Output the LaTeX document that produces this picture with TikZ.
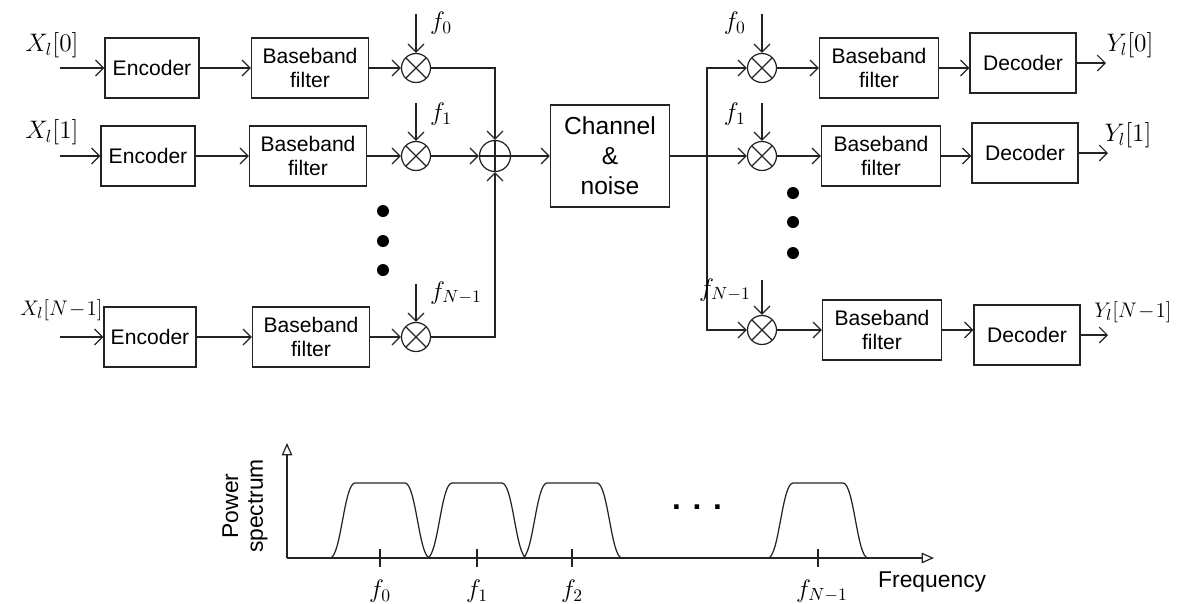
\documentclass[tikz,border=0pt]{standalone}
\usepackage{fontspec}
\setmainfont{Liberation Sans}
\usetikzlibrary{arrows.meta,calc,positioning}
\definecolor{bdline}{RGB}{35,35,35}
\tikzset{
  blk/.style={draw=bdline, line width=0.7pt, minimum height=1.2cm, inner sep=1pt, align=center, font=\fontsize{12}{14}\selectfont},
  mixer/.style={draw=bdline, circle, line width=0.7pt, minimum size=0.58cm, inner sep=0pt,
    path picture={\draw[line width=0.7pt] (path picture bounding box.north west) -- (path picture bounding box.south east)
      (path picture bounding box.north east) -- (path picture bounding box.south west);}},
  adder/.style={draw=bdline, circle, line width=0.7pt, minimum size=0.62cm, inner sep=0pt,
    path picture={\draw[line width=0.7pt] (path picture bounding box.north) -- (path picture bounding box.south)
      (path picture bounding box.east) -- (path picture bounding box.west);}},
  wire/.style={line width=0.7pt, draw=bdline},
  sig/.style={wire, -{Straight Barb[length=4.5pt,width=9pt]}},
  lbl/.style={font=\fontsize{14}{16}\selectfont},
  dotm/.style={circle, fill=black, inner sep=0pt, minimum size=0.24cm},
}
\begin{document}
\begin{tikzpicture}[x=0.02cm,y=-0.02cm]
    \useasboundingbox (0,0) rectangle (1178,603);

    \begin{scope}
        \node[blk, minimum width=1.88cm] (enc1) at (152,68) {Encoder};
        \node[blk, minimum width=1.88cm] (enc2) at (148,156) {Encoder};
        \node[blk, minimum width=1.84cm] (enc3) at (150,337) {Encoder};
        \node[blk, minimum width=2.34cm] (bbf1) at (310,68) {Baseband\\filter};
        \node[blk, minimum width=2.34cm] (bbf2) at (308,156) {Baseband\\filter};
        \node[blk, minimum width=2.34cm] (bbf3) at (311,337) {Baseband\\filter};
        \node[mixer] (mx1) at (416,68) {};
        \node[mixer] (mx2) at (416,156) {};
        \node[mixer] (mx3) at (416,337) {};
        \node[adder] (add) at (495,156) {};
        \node[blk, minimum width=2.38cm, minimum height=2.04cm, font=\fontsize{14}{17}\selectfont] (chan) at (610,156) {Channel\\\&\\noise};

        \coordinate (in1) at (60,68);
        \coordinate (in2) at (60,156);
        \coordinate (in3) at (60,337);
        \node[lbl] (xl1) at (52,45) {$X_l[0]$};
        \node[lbl] (xl2) at (52,132) {$X_l[1]$};
        \node[lbl, anchor=west, inner sep=0pt, font=\fontsize{12.5}{14}\selectfont] (xl3) at (20,310) {$X_l[N\!-\!1]$};
        \draw[sig] (in1) -- (enc1.west);
        \draw[sig] (in2) -- (enc2.west);
        \draw[sig] (in3) -- (enc3.west);
        \draw[sig] (enc1) -- (bbf1);
        \draw[sig] (enc2) -- (bbf2);
        \draw[sig] (enc3) -- (bbf3);
        \draw[sig] (bbf1) -- (mx1);
        \draw[sig] (bbf2) -- (mx2);
        \draw[sig] (bbf3) -- (mx3);

        \coordinate (lo1) at (416,14);
        \coordinate (lo2) at (416,103);
        \coordinate (lo3) at (416,284);
        \node[lbl, anchor=west] (fl1) at (424,23) {$f_0$};
        \node[lbl, anchor=west] (fl2) at (424,114) {$f_1$};
        \node[lbl, anchor=west] (fl3) at (424,293) {$f_{N-1}$};
        \draw[sig] (lo1) -- (mx1.north);
        \draw[sig] (lo2) -- (mx2.north);
        \draw[sig] (lo3) -- (mx3.north);

        \draw[sig] (mx1.east) -| (add.north);
        \draw[sig] (mx2.east) -- (add.west);
        \draw[sig] (mx3.east) -| (add.south);
        \draw[sig] (add.east) -- (chan.west);

        \node[dotm] (ld1) at (383,211) {};
        \node[dotm] (ld2) at (383,241) {};
        \node[dotm] (ld3) at (383,270) {};
    \end{scope}

    \begin{scope}
        \node[mixer] (rmx1) at (762,68) {};
        \node[mixer] (rmx2) at (762,156) {};
        \node[mixer] (rmx3) at (762,330) {};
        \node[blk, minimum width=2.38cm] (rbf1) at (879,68) {Baseband\\filter};
        \node[blk, minimum width=2.38cm] (rbf2) at (881,156) {Baseband\\filter};
        \node[blk, minimum width=2.38cm] (rbf3) at (882,330) {Baseband\\filter};
        \node[blk, minimum width=2.12cm] (dec1) at (1023,63) {Decoder};
        \node[blk, minimum width=2.12cm] (dec2) at (1025,153) {Decoder};
        \node[blk, minimum width=2.12cm] (dec3) at (1027,335) {Decoder};

        \coordinate (split) at (707,156);
        \draw[wire] (chan.east) -- (split);
        \draw[sig] (split) |- (rmx1.west);
        \draw[sig] (split) -- (rmx2.west);
        \draw[sig] (split) |- (rmx3.west);

        \coordinate (rlo1) at (762,14);
        \coordinate (rlo2) at (762,103);
        \coordinate (rlo3) at (762,280);
        \node[lbl, anchor=east] (rfl1) at (752,23) {$f_0$};
        \node[lbl, anchor=east] (rfl2) at (752,114) {$f_1$};
        \node[lbl, anchor=east] (rfl3) at (757,290) {$f_{N-1}$};
        \draw[sig] (rlo1) -- (rmx1.north);
        \draw[sig] (rlo2) -- (rmx2.north);
        \draw[sig] (rlo3) -- (rmx3.north);

        \draw[sig] (rmx1) -- (rbf1);
        \draw[sig] (rmx2) -- (rbf2);
        \draw[sig] (rmx3) -- (rbf3);
        \draw[sig] (rbf1.east) -- (rbf1.east -| dec1.west);
        \draw[sig] (rbf2.east) -- (rbf2.east -| dec2.west);
        \draw[sig] (rbf3.east) -- (rbf3.east -| dec3.west);

        \coordinate (out1) at (1106,63);
        \coordinate (out2) at (1108,153);
        \coordinate (out3) at (1108,335);
        \draw[sig] (dec1.east) -- (out1);
        \draw[sig] (dec2.east) -- (out2);
        \draw[sig] (dec3.east) -- (out3);
        \node[lbl] (yl1) at (1130,45) {$Y_l[0]$};
        \node[lbl] (yl2) at (1128,135) {$Y_l[1]$};
        \node[lbl, anchor=east, inner sep=0pt, font=\fontsize{12.5}{14}\selectfont] (yl3) at (1172,312) {$Y_l[N\!-\!1]$};

        \node[dotm] (rd1) at (793,193) {};
        \node[dotm] (rd2) at (793,222) {};
        \node[dotm] (rd3) at (793,253) {};
    \end{scope}

    \begin{scope}
        \coordinate (org) at (287,558);
        \coordinate (ytop) at (287,443);
        \coordinate (xend) at (934,558);
        \draw[wire, -{Triangle[open,length=7pt,width=6pt]}] (org) -- (ytop);
        \draw[wire, -{Triangle[open,length=7pt,width=6pt]}] (org) -- (xend);
        \node[rotate=90, align=center, font=\fontsize{13}{14}\selectfont] (pwr) at (245,506) {Power\\spectrum};
        \node[anchor=north west, font=\fontsize{13}{15}\selectfont] (frq) at (872,566) {Frequency};
        \foreach \c in {380,477,572,818} {
            \draw[wire] (\c-50,558) .. controls (\c-39,558) and (\c-36,483) .. (\c-25,483)
                -- (\c+25,483) .. controls (\c+36,483) and (\c+39,558) .. (\c+50,558);
            \draw[wire] (\c,549) -- (\c,567);
        }
        \node[lbl] (sf0) at (380,591) {$f_0$};
        \node[lbl] (sf1) at (477,591) {$f_1$};
        \node[lbl] (sf2) at (572,591) {$f_2$};
        \node[lbl] (sf3) at (822,591) {$f_{N-1}$};
        \node[font=\fontsize{18}{20}\bfseries] (gap) at (697,507) {. . .};
    \end{scope}
\end{tikzpicture}
\end{document}
